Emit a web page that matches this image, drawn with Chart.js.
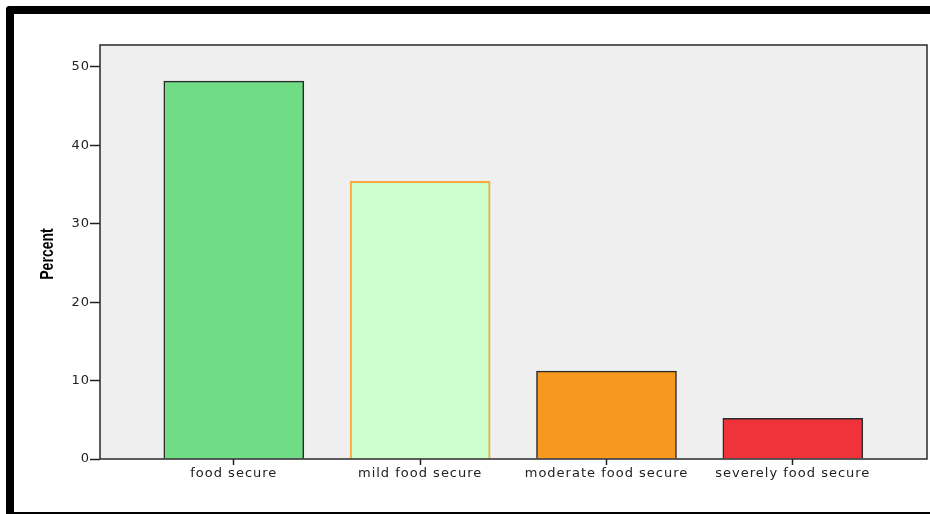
<!DOCTYPE html>
<html>
<head>
<meta charset="utf-8">
<script src="https://cdn.jsdelivr.net/npm/chart.js@4"></script>
<style>
  html, body { margin: 0; padding: 0; background: #fff; }
  #wrap { position: relative; width: 930px; height: 514px; }
</style>
</head>
<body>
<div id="wrap"><canvas id="foodChart" width="930" height="514"></canvas></div>
<script>
const categories = ["food secure", "mild food secure", "moderate food secure", "severely food secure"];
const percents = [48.2, 35.4, 11.2, 5.2];
const barColors = ["#71dc86", "#ccffcc", "#f8991f", "#f0323a"];
const barBorders = ["#2a2a2a", "#f6a93e", "#2a2a2a", "#2a2a2a"];
const yTicks = [0, 10, 20, 30, 40, 50];
const yTitle = "Percent";

// frame, grey plot background, plot border and the narrow axis title
const framePlugin = {
  id: "frame",
  beforeDraw(chart) {
    const ctx = chart.ctx;
    const a = chart.chartArea;
    ctx.save();
    ctx.fillStyle = "#fff";
    ctx.fillRect(0, 0, chart.width, chart.height);
    ctx.fillStyle = "#000";
    ctx.beginPath();
    ctx.roundRect(6, 6, chart.width, 8, [4, 0, 0, 0]);
    ctx.fill();
    ctx.beginPath();
    ctx.roundRect(6, 6, 8, chart.height, [4, 0, 0, 0]);
    ctx.fill();
    ctx.fillRect(14, 512, chart.width, 2);
    ctx.fillStyle = "#efefef";
    ctx.fillRect(a.left, a.top, a.right - a.left, a.bottom - a.top);
    ctx.restore();
    ctx.letterSpacing = "1px";
  },
  afterDatasetsDraw(chart) {
    const ctx = chart.ctx;
    const a = chart.chartArea;
    ctx.save();
    ctx.strokeStyle = "#2a2a2a";
    ctx.lineWidth = 1.5;
    ctx.strokeRect(a.left, a.top, a.right - a.left, a.bottom - a.top);
    ctx.restore();
  },
  afterDraw(chart) {
    const ctx = chart.ctx;
    ctx.letterSpacing = "0px";
    ctx.save();
    ctx.translate(48, 254);
    ctx.rotate(-Math.PI / 2);
    ctx.scale(0.74, 1);
    ctx.font = "bold 19px 'Liberation Sans', Arial, sans-serif";
    ctx.fillStyle = "#000";
    ctx.textAlign = "center";
    ctx.textBaseline = "middle";
    ctx.fillText(yTitle, 0, 0);
    ctx.restore();
  }
};

const ctx = document.getElementById("foodChart").getContext("2d");
new Chart(ctx, {
  type: "bar",
  data: {
    datasets: [
      {
        label: yTitle,
        data: percents.map((v, i) => ({ x: i + 1, y: v })),
        backgroundColor: barColors,
        borderColor: barBorders,
        borderWidth: [1.5, 2, 1.5, 1.5],
        barThickness: 140,
      },
    ],
  },
  options: {
    responsive: false,
    animation: false,
    events: [],
    layout: { padding: { top: 45, right: 3, left: 0, bottom: 0 } },
    plugins: {
      legend: { display: false },
      tooltip: { enabled: false },
    },
    scales: {
      x: {
        type: "linear",
        offset: false,
        min: 0.282,
        max: 4.72,
        afterBuildTicks: (scale) => {
          scale.ticks = categories.map((c, i) => ({ value: i + 1 }));
        },
        afterFit: (scale) => { scale.height = 55; },
        ticks: {
          autoSkip: false,
          maxRotation: 0,
          padding: 1,
          color: "#222",
          font: { family: "DejaVu Sans", size: 13 },
          callback: (v) => categories[v - 1],
        },
        grid: { offset: false, drawOnChartArea: false, tickLength: 6, tickColor: "#222", tickWidth: 1.5 },
        border: { display: false },
      },
      y: {
        min: 0,
        max: 52.8,
        afterBuildTicks: (scale) => {
          scale.ticks = yTicks.map((v) => ({ value: v }));
        },
        afterFit: (scale) => { scale.width = 100; },
        ticks: {
          padding: 0,
          color: "#222",
          font: { family: "DejaVu Sans", size: 13 },
        },
        grid: { drawOnChartArea: false, tickLength: 10, tickColor: "#222", tickWidth: 1.5 },
        border: { display: false },
      },
    },
  },
  plugins: [framePlugin],
});
</script>
</body>
</html>
